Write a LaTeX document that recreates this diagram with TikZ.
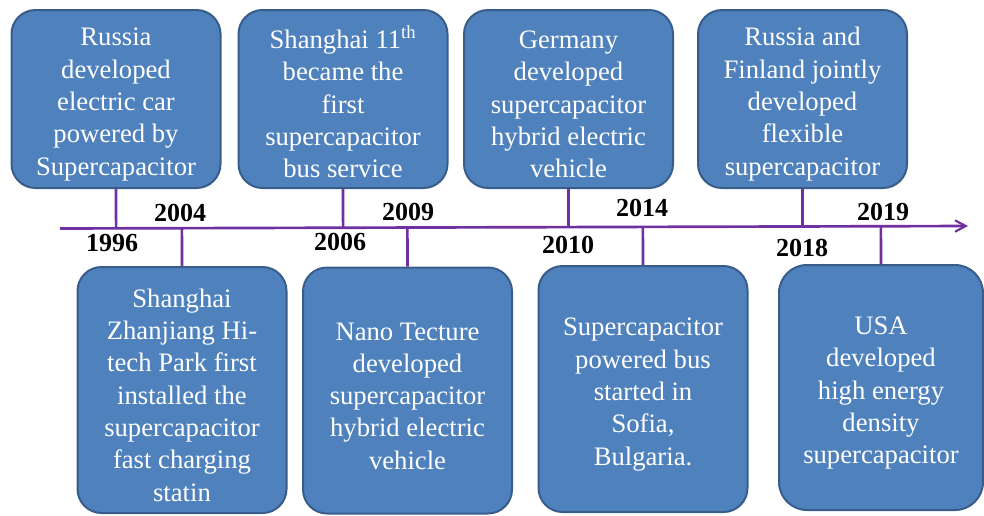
\documentclass[tikz,border=0pt]{standalone}
\usepackage{fontspec}
\setmainfont{Liberation Serif}
\usetikzlibrary{arrows.meta,calc}
\definecolor{boxfill}{HTML}{4F81BD}
\definecolor{boxdraw}{HTML}{385D8A}
\definecolor{tlcol}{HTML}{7030A0}
\newcommand\toppad{\rule{0pt}{21.5pt}}
\begin{document}
\begin{tikzpicture}[x=0.75pt,y=-0.75pt,
  event/.style={draw=boxdraw, fill=boxfill, line width=1.5pt, rounded corners=18pt,
    text=white, align=center, font=\fontsize{20}{24.2}\selectfont, inner sep=0pt},
  topbox/.style={event, minimum width=156.75pt, minimum height=133.5pt},
  botbox/.style={event, minimum width=156.75pt, minimum height=184.5pt},
  year/.style={font=\fontsize{19.5}{22}\selectfont\bfseries, inner sep=0pt},
  tick/.style={draw=tlcol, line width=2pt}]
\useasboundingbox (0,0) rectangle (984,515);

% timeline
\coordinate (L0) at (60,228.5);
\coordinate (L1) at (968,226);
\draw[tick, -{Straight Barb[length=8pt,width=8.5pt,line width=1.6pt]}] (L0) -- (L1);

% top boxes
\node[topbox] (b1) at (116,99) {\toppad Russia\\developed\\electric car\\powered by\\Supercapacitor};
\node[topbox] (b2) at (343,99) {\toppad Shanghai 11\textsuperscript{th}\\became the\\first\\supercapacitor\\bus service};
\node[topbox] (b3) at (568.5,99) {\toppad Germany\\developed\\supercapacitor\\hybrid electric\\vehicle};
\node[topbox] (b4) at (802.5,99) {\toppad Russia and\\Finland jointly\\developed\\flexible\\supercapacitor};

% bottom boxes
\node[botbox] (b5) at (182,390) {\toppad Shanghai\\Zhanjiang Hi-\\tech Park first\\installed the\\supercapacitor\\fast charging\\statin};
\node[botbox] (b6) at (407.5,390.5) {\toppad Nano Tecture\\developed\\supercapacitor\\hybrid electric\\vehicle};
\node[botbox] (b7) at (643,389) {\toppad Supercapacitor\\powered bus\\started in\\Sofia,\\Bulgaria.};
\node[botbox, minimum width=153pt, minimum height=183.75pt, rounded corners=21pt] (b8) at (881,387.5) {\toppad USA\\developed\\high energy\\density\\supercapacitor};

% connectors
\foreach \b in {b1,b2,b3,b4}{
  \draw[tick] (\b.south) -- ($(L0)!(\b.south)!(L1)$);
}
\foreach \b in {b5,b6,b7,b8}{
  \draw[tick] ($(L0)!(\b.north)!(L1)$) -- (\b.north);
}

% year labels
\node[year] (y1996) at (112,243) {1996};
\node[year] (y2004) at (180,213) {2004};
\node[year] (y2006) at (340,242) {2006};
\node[year] (y2009) at (408,212) {2009};
\node[year] (y2010) at (568,245) {2010};
\node[year] (y2014) at (642,208) {2014};
\node[year] (y2018) at (802,248) {2018};
\node[year] (y2019) at (883,212) {2019};
\end{tikzpicture}
\end{document}
